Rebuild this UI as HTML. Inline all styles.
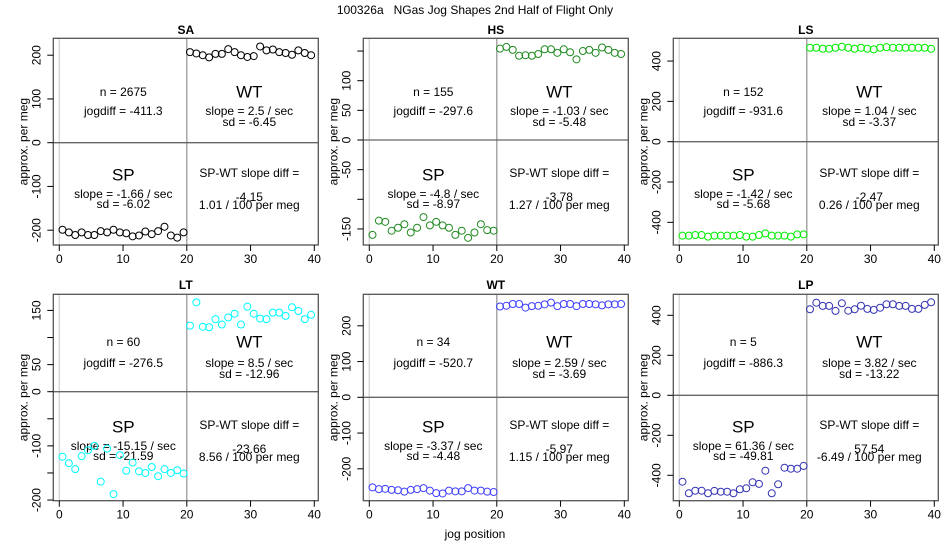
<!DOCTYPE html>
<html><head><meta charset="utf-8">
<style>
body{margin:0;background:#fff;}
svg{display:block;font-family:"Liberation Sans",sans-serif;}
</style></head>
<body>
<svg id="chart" width="950" height="550" viewBox="0 0 950 550">
<text x="475" y="14" text-anchor="middle" font-size="12" fill="#000" xml:space="preserve" style="white-space:pre">100326a   NGas Jog Shapes 2nd Half of Flight Only</text>
<text x="475" y="538" text-anchor="middle" font-size="12" fill="#000">jog position</text>
</svg>
<script>
const panelNames = ["SA","HS","LS","LT","WT","LP"];
const panelColors = ["#000000","#228b22","#00ee00","#00ffff","#4040ff","#3535b5"];
const spSA = [-199,-205,-211,-205,-211,-211,-202,-205,-199,-205,-207,-214,-212,-203,-209,-202,-192,-212,-217,-205];
const wtSA = [207,204,200,195,203,203,214,207,200,196,198,220,211,213,207,205,201,211,205,200];
const spHS = [-160,-136,-138,-153,-148,-142,-156,-148,-130,-144,-138,-144,-148,-160,-153,-165,-156,-142,-152,-153];
const wtHS = [154,157,152,142,143,142,145,153,153,147,153,148,136,150,152,147,156,152,147,145];
const spLS = [-466,-466,-463,-463,-471,-466,-466,-466,-466,-463,-471,-471,-463,-455,-466,-466,-466,-471,-460,-460];
const wtLS = [466,466,461,461,466,471,466,461,466,461,458,466,469,466,466,466,466,466,466,461];
const spLT = [-120,-132,-143,-119,-108,-100,-166,-105,-189,-117,-146,-131,-147,-150,-139,-156,-143,-150,-145,-151];
const wtLT = [122,165,120,119,134,124,137,144,124,157,144,135,134,146,146,140,156,149,134,142];
const spWT = [-252,-257,-256,-259,-260,-264,-259,-257,-254,-261,-268,-269,-261,-263,-263,-254,-261,-261,-264,-265];
const wtWT = [254,256,261,261,251,255,256,260,265,255,261,261,255,261,261,260,257,260,260,261];
const spLP = [-432,-490,-477,-477,-490,-478,-482,-482,-490,-470,-465,-435,-443,-377,-490,-445,-362,-367,-367,-353];
const wtLP = [430,463,447,447,422,460,423,430,448,432,427,438,455,455,447,447,432,432,452,465];
const spSeries = [spSA,spHS,spLS,spLT,spWT,spLP];
const wtSeries = [wtSA,wtHS,wtLS,wtLT,wtWT,wtLP];
const xTicks = [0,10,20,30,40];
const yTicksAll = [[-200,-100,0,100,200],[-150,-100,-50,0,50,100,150],[-400,-200,0,200,400],[-200,-150,-100,-50,0,50,100,150],[-200,-100,0,100,200],[-400,-200,0,200,400]];
const yTickLabels = [[-200,-100,0,100,200],[-150,-50,0,50,100],[-400,-200,0,200,400],[-200,-100,0,50,150],[-200,-100,0,100,200],[-400,-200,0,200,400]];
const nText = ["n = 2675","n = 155","n = 152","n = 60","n = 34","n = 5"];
const jogText = ["jogdiff = -411.3","jogdiff = -297.6","jogdiff = -931.6","jogdiff = -276.5","jogdiff = -520.7","jogdiff = -886.3"];
const wtSlope = ["slope = 2.5 / sec","slope = -1.03 / sec","slope = 1.04 / sec","slope = 8.5 / sec","slope = 2.59 / sec","slope = 3.82 / sec"];
const wtSd = ["sd = -6.45","sd = -5.48","sd = -3.37","sd = -12.96","sd = -3.69","sd = -13.22"];
const spSlope = ["slope = -1.66 / sec","slope = -4.8 / sec","slope = -1.42 / sec","slope = -15.15 / sec","slope = -3.37 / sec","slope = 61.36 / sec"];
const spSd = ["sd = -6.02","sd = -8.97","sd = -5.68","sd = -21.59","sd = -4.48","sd = -49.81"];
const diffVal = ["-4.15","-3.78","-2.47","-23.66","-5.97","57.54"];
const perMeg = ["1.01 / 100 per meg","1.27 / 100 per meg","0.26 / 100 per meg","8.56 / 100 per meg","1.15 / 100 per meg","-6.49 / 100 per meg"];
const yZero = [142.7,140,141.7,391.7,397.3,395.3];
const yScale = [0.4375,0.593,0.2016,0.5417,0.3575,0.2];

const svg = document.getElementById('chart');
const NS = "http://www.w3.org/2000/svg";
function mk(tag, attrs, parent){
  const e = document.createElementNS(NS, tag);
  for (const k in attrs) e.setAttribute(k, attrs[k]);
  (parent||svg).appendChild(e);
  return e;
}
function txt(parent, x, y, s, size, extra){
  const t = mk('text', Object.assign({x:x, y:y, 'text-anchor':'middle', 'dominant-baseline':'central', 'font-size':size, fill:'#000'}, extra||{}), parent);
  t.textContent = s;
  return t;
}
for (let p=0;p<6;p++){
  const col = p%3, row = Math.floor(p/3);
  const L = 53.3 + col*310, R = L + 265;
  const T = row ? 294.3 : 38.3, B = row ? 500.7 : 245;
  const x0 = L + 6;
  const xs = v => x0 + v*6.375;
  const ys = v => yZero[p] - v*yScale[p];
  const g = mk('g', {});
  
  
  let t = txt(g, (L+R)/2, row?285:30, panelNames[p], 12, {'font-weight':'bold'});
  
  
  let ln = mk('line', {x1:xs(0), x2:xs(0), y1:T, y2:B, stroke:'#d8d8d8', 'stroke-width':1.5}, g);
  
  
  ln = mk('line', {x1:xs(20), x2:xs(20), y1:T, y2:B, stroke:'#999', 'stroke-width':1.3}, g);
  
  
  ln = mk('line', {x1:L, x2:R, y1:ys(0), y2:ys(0), stroke:'#666', 'stroke-width':1.3}, g);
  
  
  const box = mk('rect', {x:L, y:T, width:R-L, height:B-T, fill:'none', stroke:'#555', 'stroke-width':1.3}, g);
  
  
  xTicks.forEach(v=>{
    const tk = mk('line', {x1:xs(v), x2:xs(v), y1:B, y2:B+6, stroke:'#000'}, g);
    
    
    const tl = txt(g, xs(v), B+14, String(v), 12);
    
    
  });
  yTicksAll[p].forEach(v=>{
    const tk = mk('line', {x1:L-6, x2:L, y1:ys(v), y2:ys(v), stroke:'#000'}, g);
    
    
  });
  yTickLabels[p].forEach(v=>{
    const yy = ys(v);
    const tl = txt(g, L-17, yy, String(v), 12, {transform:`rotate(-90 ${L-17} ${yy})`});
    
    
  });
  const yt = txt(g, L-30, (T+B)/2, 'approx. per meg', 12, {transform:`rotate(-90 ${L-30} ${(T+B)/2})`});
  
  
  const cxL = L + 70, cxR = L + 196;
  const o = row ? 252 : 0, d = row ? -2 : 0;
  const notes = [
    [cxL, 92+o+d, nText[p], 12, 'n-count'],
    [cxL, 111+o, jogText[p], 12, 'jogdiff'],
    [cxR, 92+o+d, 'WT', 17, 'wt-label'],
    [cxR, 111+o, wtSlope[p], 12, 'wt-slope'],
    [cxR, 122+o, wtSd[p], 12, 'wt-sd'],
    [cxL, 175+o, 'SP', 17, 'sp-label'],
    [cxL, 194+o, spSlope[p], 12, 'sp-slope'],
    [cxL, 204+o, spSd[p], 12, 'sp-sd'],
    [cxR, 173+o, 'SP-WT slope diff =', 12, 'slope-diff-label'],
    [cxR, 197+o, diffVal[p], 12, 'slope-diff-value'],
    [cxR, 205+o, perMeg[p], 12, 'per-meg-value']
  ];
  notes.forEach(n=>{
    const e = txt(g, n[0], n[1], n[2], n[3]);
    
    
  });
  spSeries[p].forEach((v,i)=>{
    const c = mk('circle', {cx:xs(i+0.5), cy:ys(v), r:3.5, fill:'none', stroke:panelColors[p], 'stroke-width':1}, g);
    
    
  });
  wtSeries[p].forEach((v,i)=>{
    const c = mk('circle', {cx:xs(i+20.5), cy:ys(v), r:3.5, fill:'none', stroke:panelColors[p], 'stroke-width':1}, g);
    
    
  });
}
</script>
</body></html>
